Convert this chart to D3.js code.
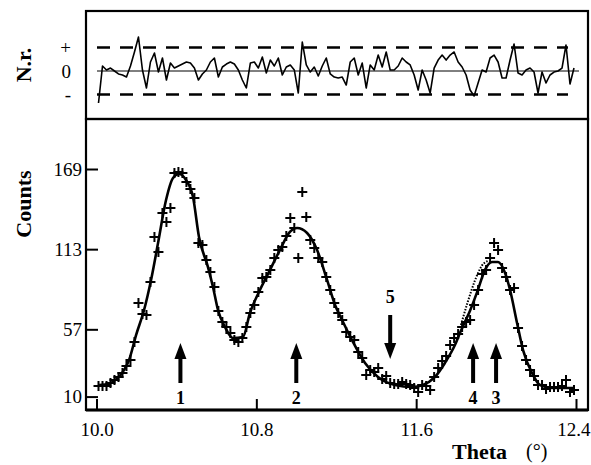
<!DOCTYPE html>
<html>
<head>
<meta charset="utf-8">
<script src="https://cdn.jsdelivr.net/npm/d3@7"></script>
<style>
  body { margin: 0; background: #fff; }
  svg { display: block; }
  text { font-family: 'Liberation Serif', 'Times New Roman', serif; fill: #000; }
</style>
</head>
<body>
<svg id="chart" width="591" height="465"></svg>
<script>
// scan angles (deg)
const theta = [
  10.01,10.03,10.05,10.07,10.09,10.11,10.13,10.15,10.17,10.19,
  10.21,10.23,10.25,10.27,10.29,10.31,10.33,10.35,10.37,10.39,
  10.41,10.43,10.45,10.47,10.49,10.51,10.53,10.55,10.57,10.59,
  10.61,10.63,10.65,10.67,10.69,10.71,10.73,10.75,10.77,10.79,
  10.81,10.83,10.85,10.87,10.89,10.91,10.93,10.95,10.97,10.99,
  11.01,11.03,11.05,11.07,11.09,11.11,11.13,11.15,11.17,11.19,
  11.21,11.23,11.25,11.27,11.29,11.31,11.33,11.35,11.37,11.39,
  11.41,11.43,11.45,11.47,11.49,11.51,11.53,11.55,11.57,11.59,
  11.61,11.63,11.65,11.67,11.69,11.71,11.73,11.75,11.77,11.79,
  11.81,11.83,11.85,11.87,11.89,11.91,11.93,11.95,11.97,11.99,
  12.01,12.03,12.05,12.07,12.09,12.11,12.13,12.15,12.17,12.19,
  12.21,12.23,12.25,12.27,12.29,12.31,12.33,12.35,12.37,12.39
];

// measured counts (crosses)
const counts = [
  17.4,17.4,17.4,19.5,21.6,23.7,26.5,31.4,35.6,48.1,
  75.4,67.7,67.0,90.1,121.5,111.0,138.3,132.0,141.8,166.2,
  166.9,166.2,159.9,155.0,148.7,117.3,115.9,105.4,97.0,86.6,
  69.8,62.1,58.6,54.4,49.5,48.1,50.9,58.6,68.4,74.0,
  83.1,92.9,93.6,98.4,106.8,112.4,114.5,122.2,134.8,127.8,
  106.8,152.9,135.5,119.4,113.8,106.8,104.0,93.6,84.5,75.4,
  68.4,63.5,55.1,51.6,49.5,41.2,37.0,25.1,28.6,27.2,
  30.0,22.3,24.4,19.5,18.8,18.8,20.2,18.8,18.1,16.0,
  13.2,18.1,17.4,14.6,23.7,30.0,34.9,38.4,46.0,50.9,
  53.7,58.6,62.1,63.5,74.0,84.5,95.6,98.4,106.8,117.3,
  112.4,99.8,93.6,84.5,85.9,57.9,45.3,35.6,28.6,24.4,
  18.1,18.1,15.3,16.7,16.7,16.7,17.4,21.6,13.2,14.6
];

// normalized residuals (dashed limits at +/-3)
const residuals = [
  -4.09,0.64,0.13,0.38,0,-0.38,-0.51,-0.77,0.64,2.43,
  4.34,0.13,-2.17,1.15,2.30,-0.13,1.66,-1.15,1.02,0.38,
  0.64,0.89,1.15,1.02,0.38,-1.15,-0.38,0.13,1.15,1.66,
  -0.77,0.51,0.89,1.15,0.89,0.13,-1.15,-2.17,1.02,1.15,
  0.38,1.79,-0.26,1.40,0.64,1.66,-0.51,0.51,0.77,0.13,
  -2.81,3.70,0.77,-0.13,0.51,-0.64,0.64,1.66,-0.38,-0.77,
  -0.89,-0.77,-1.79,1.15,1.66,-0.51,1.02,-2.17,0.77,0.13,
  2.04,0.51,2.43,0.13,0.13,0.64,1.66,1.15,0.77,-0.51,
  -2.43,0.13,-1.15,-2.81,0.38,1.40,2.04,1.40,2.04,2.43,
  1.15,0.51,-0.51,-2.43,-3.19,-1.53,0.13,-0.13,1.66,2.04,
  1.15,-0.89,-0.89,1.40,3.45,-0.26,-0.51,0.13,0.38,-0.13,
  -2.81,-0.13,-1.53,-0.51,-0.13,0,0.38,3.32,-1.66,0.38
];

// fitted profile
const fitTheta = [
  10.013,10.063,10.088,10.113,10.138,10.163,10.198,10.238,10.273,10.308,
  10.348,10.383,10.413,10.448,10.483,10.513,10.558,10.583,10.608,10.643,
  10.683,10.733,10.768,10.818,10.868,10.918,10.968,11.004,11.054,11.104,
  11.154,11.194,11.229,11.279,11.344,11.409,11.494,11.579,11.634,11.694,
  11.744,11.794,11.819,11.844,11.869,11.909,11.944,11.980,12.010,12.045,
  12.070,12.105,12.135,12.180,12.220,12.285,12.395
];
const fitCounts = [
  18.1,18.8,20.9,23.7,28.6,35.6,53.0,70.5,91.5,117.3,
  147.3,162.7,165.5,161.3,149.4,121.5,100.5,86.6,70.5,58.6,
  50.9,51.6,68.4,84.5,98.4,112.4,125.0,127.8,124.3,112.4,
  91.5,74.0,63.5,49.5,33.5,23.7,18.1,16.7,18.1,23.7,
  33.5,46.0,54.4,62.1,69.8,84.5,98.4,104.0,104.0,96.3,
  84.5,61.4,42.5,26.5,18.1,16.0,16.0
];

// dotted component on the left flank of peak 3
const dotTheta = [11.824, 11.859, 11.894, 11.929, 11.964];
const dotCounts = [60.0, 76.5, 91.0, 101.5, 105.0];

// peak markers
const peakLabels = ['1', '2', '3', '4', '5'];
const peakTheta = [10.42, 11.00, 12.00, 11.885, 11.47];
const peakDir = ['up', 'up', 'up', 'up', 'down'];

const xTicks = [10.0, 10.8, 11.6, 12.4];
const yTicks = [10, 57, 113, 169];
const rTicks = [3, 0, -3];
const rLabels = ['+', '0', '-'];

const svg = d3.select('#chart');

const left = 86, right = 588;
const topT = 11, topB = 119, botB = 410;

const x = d3.scaleLinear().domain([9.9474, 12.4601]).range([left, right]);
const y = d3.scaleLinear().domain([0.629, 203.94]).range([botB, topB]);
const yR = d3.scaleLinear().domain([-6.13, 7.663]).range([topB, topT]);

// ---- residual panel ----
svg.append('line')
  .attr('x1', 97).attr('x2', 579)
  .attr('y1', yR(0)).attr('y2', yR(0))
  .attr('stroke', '#000').attr('stroke-width', 1);

[3, -3].forEach(v => {
  svg.append('line')
    .attr('x1', 97).attr('x2', 568)
    .attr('y1', yR(v)).attr('y2', yR(v))
    .attr('stroke', '#000').attr('stroke-width', 2.5)
    .attr('stroke-dasharray', '13,10');
});

const resLine = d3.line()
  .x((d, i) => x(theta[i]))
  .y(d => yR(d));

svg.append('path')
  .datum(residuals)
  .attr('d', resLine)
  .attr('fill', 'none')
  .attr('stroke', '#000')
  .attr('stroke-width', 1.6)
  .attr('stroke-linejoin', 'round');

const rAxis = svg.append('g')
  .attr('transform', `translate(${left},0)`)
  .call(d3.axisLeft(yR).tickValues(rTicks).tickSize(0).tickPadding(15)
    .tickFormat((d, i) => rLabels[i]));
rAxis.select('.domain').remove();
rAxis.selectAll('text').style('font-size', '19px').style('font-family', 'Liberation Serif');

// ---- main panel ----
const fitLine = d3.line()
  .x((d, i) => x(fitTheta[i]))
  .y(d => y(d))
  .curve(d3.curveMonotoneX);

svg.append('path')
  .datum(fitCounts)
  .attr('d', fitLine)
  .attr('fill', 'none')
  .attr('stroke', '#000')
  .attr('stroke-width', 2.6);

const dotLine = d3.line()
  .x((d, i) => x(dotTheta[i]))
  .y(d => y(d))
  .curve(d3.curveMonotoneX);

svg.append('path')
  .datum(dotCounts)
  .attr('d', dotLine)
  .attr('fill', 'none')
  .attr('stroke', '#000')
  .attr('stroke-width', 2)
  .attr('stroke-dasharray', '1.5,1.5');

// crosses
svg.append('g')
  .selectAll('path')
  .data(counts)
  .join('path')
  .attr('transform', (d, i) => `translate(${x(theta[i])},${y(d)})`)
  .attr('d', 'M-5,0H5M0,-5V5')
  .attr('stroke', '#000')
  .attr('stroke-width', 2);

// axes
const xAxis = svg.append('g')
  .attr('transform', `translate(0,${botB})`)
  .call(d3.axisBottom(x).tickValues(xTicks).tickSize(-11).tickPadding(13)
    .tickFormat(d3.format('.1f')));
xAxis.select('.domain').remove();
xAxis.selectAll('line').attr('stroke-width', 2);
xAxis.selectAll('text').style('font-size', '19px').style('font-family', 'Liberation Serif');
// last label sits against the right edge
xAxis.selectAll('text').filter(d => d === 12.4)
  .attr('text-anchor', 'end').attr('x', 14);

const yAxis = svg.append('g')
  .attr('transform', `translate(${left},0)`)
  .call(d3.axisLeft(y).tickValues(yTicks).tickSize(-12).tickPadding(4)
    .tickFormat(d3.format('d')));
yAxis.select('.domain').remove();
yAxis.selectAll('line').attr('stroke-width', 2);
yAxis.selectAll('text').style('font-size', '19px').style('font-family', 'Liberation Serif');

// frames
svg.append('rect')
  .attr('x', left).attr('y', topT)
  .attr('width', right - left).attr('height', topB - topT)
  .attr('fill', 'none').attr('stroke', '#000').attr('stroke-width', 2.2);
svg.append('rect')
  .attr('x', left).attr('y', topB)
  .attr('width', right - left).attr('height', botB - topB)
  .attr('fill', 'none').attr('stroke', '#000').attr('stroke-width', 2.2);
svg.append('line')
  .attr('x1', left).attr('x2', right).attr('y1', botB).attr('y2', botB)
  .attr('stroke', '#000').attr('stroke-width', 3);

// peak arrows
const arrows = svg.append('g');
peakLabels.forEach((lab, i) => {
  const px = x(peakTheta[i]);
  if (peakDir[i] === 'up') {
    arrows.append('rect').attr('x', px - 2).attr('y', 355).attr('width', 4).attr('height', 28);
    arrows.append('path').attr('d', `M${px},343L${px - 6},359L${px + 6},359Z`);
    arrows.append('text').attr('x', px).attr('y', 404)
      .attr('text-anchor', 'middle').style('font-size', '18px').style('font-weight', 'bold')
      .text(lab);
  } else {
    arrows.append('rect').attr('x', px - 2).attr('y', 315).attr('width', 4).attr('height', 30);
    arrows.append('path').attr('d', `M${px},359L${px - 6},343L${px + 6},343Z`);
    arrows.append('text').attr('x', px).attr('y', 303)
      .attr('text-anchor', 'middle').style('font-size', '18px').style('font-weight', 'bold')
      .text(lab);
  }
});

// axis titles
svg.append('text')
  .attr('transform', 'translate(31,65) rotate(-90)')
  .attr('text-anchor', 'middle')
  .style('font-size', '22px').style('font-weight', 'bold')
  .text('N.r.');

svg.append('text')
  .attr('transform', 'translate(31,204) rotate(-90)')
  .attr('text-anchor', 'middle')
  .style('font-size', '22px').style('font-weight', 'bold')
  .text('Counts');

svg.append('text')
  .attr('x', 452).attr('y', 459)
  .style('font-size', '22px').style('font-weight', 'bold')
  .text('Theta');

svg.append('text')
  .attr('x', 526).attr('y', 458)
  .style('font-size', '20px')
  .text('(°)');
</script>
</body>
</html>
